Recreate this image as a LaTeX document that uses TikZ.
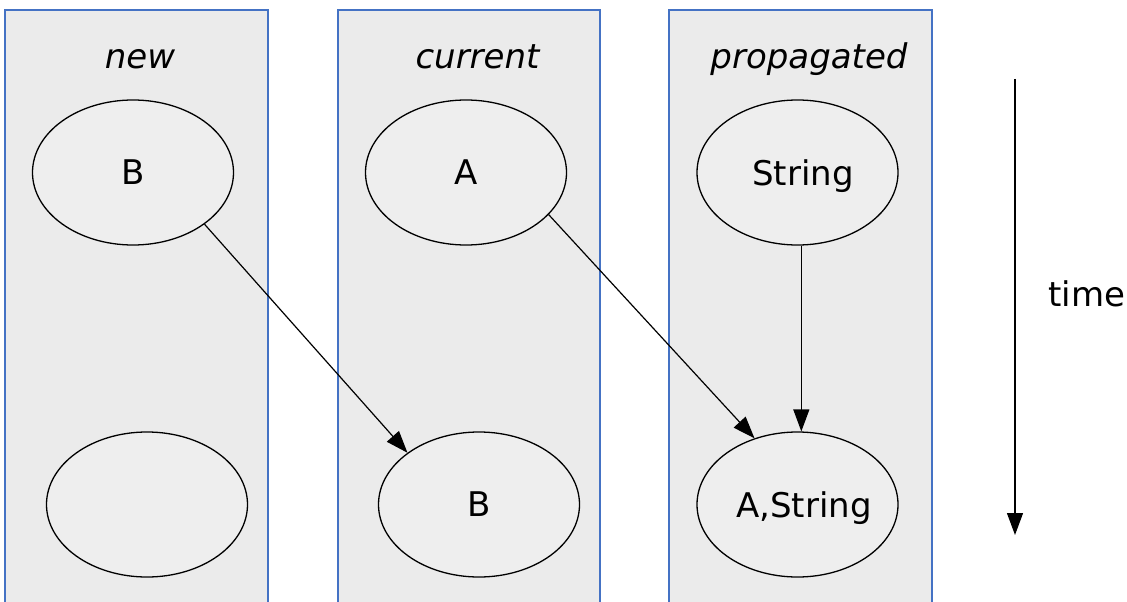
\documentclass[tikz,border=0pt]{standalone}
\usepackage{fontspec}
\setmainfont{DejaVu Sans}
\usetikzlibrary{arrows.meta,shapes.geometric}
\definecolor{lanefill}{HTML}{EBEBEB}
\definecolor{laneline}{HTML}{4472C4}
\definecolor{statefill}{HTML}{EEEEEE}

\begin{document}
\begin{tikzpicture}[x=1pt,y=-1pt,lane/.style={fill=lanefill,draw=laneline,line width=1.2pt},state/.style={shape=ellipse,draw=black,fill=statefill,line width=1.3pt,minimum width=201pt,minimum height=145pt,inner sep=0pt,text depth=0pt,font=\fontsize{34}{40}\selectfont},head/.style={anchor=base,font=\fontsize{34}{40}\selectfont\itshape},flow/.style={-{Triangle[length=22pt,width=16pt]},line width=1.2pt}]
\def\top{10};
\def\bot{612};
\def\ya{172.5};
\def\yb{504.5};

\useasboundingbox (0,0) rectangle (1127,602);

\draw[lane] (5,\top) rectangle (268,\bot);
\draw[lane] (338,\top) rectangle (600,\bot);
\draw[lane] (669,\top) rectangle (932,\bot);

\node[head] (hnew) at (140,68) {new};
\node[head] (hcur) at (477.5,68) {current};
\node[head] (hprop) at (809,68) {propagated};

\node[state] (Bn) at (133,\ya) {B};
\node[state] (En) at (147,\yb) {};
\node[state] (Ac) at (466,\ya) {A};
\node[state] (Bc) at (479,\yb) {B};
\node[state] (Sp) at (797.5,\ya) {\makebox[0pt]{\hspace*{11pt}String}};
\node[state] (ASp) at (797.5,\yb) {\makebox[0pt]{\hspace*{13pt}A,String}};

\draw[flow] (Bn.south east) -- (Bc.north west);
\draw[flow] (Ac.-27) -- (ASp.123);
\draw[flow] (Sp.-87.5) -- (ASp.87.5);

\coordinate (t0) at (1015,79);
\coordinate (t1) at (1015,535);
\draw[flow] (t0) -- (t1);
\node[anchor=base west,font=\fontsize{34}{40}\selectfont] (time) at (1045,306.5) {time};
\end{tikzpicture}
\end{document}
